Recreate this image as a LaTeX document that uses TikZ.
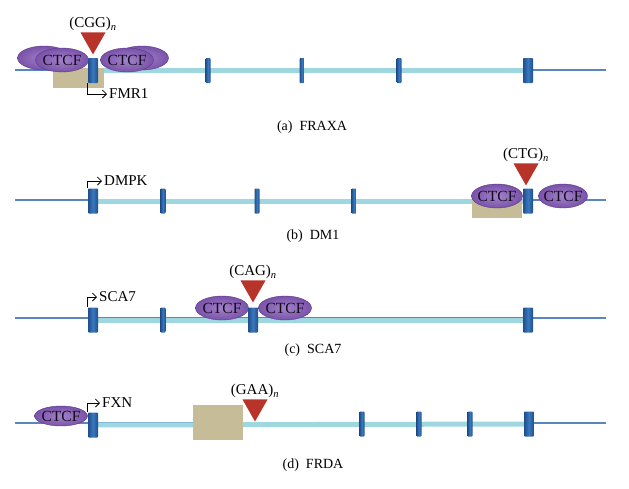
\documentclass[tikz,border=0pt]{standalone}
\usepackage{fontspec}
\setmainfont{Liberation Serif}
\usepackage{tikz}
\usepackage{xcolor}
\usetikzlibrary{shapes.geometric,backgrounds,positioning,arrows.meta}
\definecolor{strand-blue}{HTML}{5A86C0}
\definecolor{band-cyan}{HTML}{9ED7DF}
\definecolor{exon-blue}{HTML}{3A78BE}
\definecolor{exon-dark}{HTML}{1F4F8C}
\definecolor{ctcf-purple}{HTML}{7A52AA}
\definecolor{ctcf-light}{HTML}{A282C8}
\definecolor{ctcf-edge}{HTML}{5B3B8A}
\definecolor{repeat-red}{HTML}{B8342A}
\definecolor{insulator-tan}{HTML}{C6BC97}
\tikzset{
    strand/.style = {draw=strand-blue, line width=1.1pt},
    band/.style = {draw=band-cyan, line width=5pt},
    exon/.style = {rectangle, inner sep=0pt, minimum width=5pt, minimum height=25pt, rounded corners=0.8pt,
        left color=exon-dark, right color=exon-dark, middle color=exon-blue},
    big-exon/.style = {exon, minimum width=10pt},
    ctcf/.style = {ellipse, inner xsep=-6pt, inner ysep=-3pt, minimum width=53pt, minimum height=24pt, draw=ctcf-edge, thin,
        inner color=ctcf-light, outer color=ctcf-purple, text=black!80!ctcf-edge, font=\fontsize{15.5}{15.5}\selectfont},
    insulator/.style = {rectangle, fill=insulator-tan, inner sep=0pt, minimum width=50pt},
    repeat-mark/.style = {isosceles triangle, isosceles triangle stretches, shape border rotate=270,
        fill=repeat-red, inner sep=0pt, minimum width=25pt, minimum height=22pt},
    repeat-label/.style = {font=\fontsize{15}{15}\selectfont, inner sep=1pt},
    gene-name/.style = {font=\fontsize{15}{15}\selectfont, inner sep=0pt, anchor=west},
    tss/.style = {draw=black, line width=0.8pt, -{Straight Barb[length=4pt,width=8pt]}, shorten >=2pt},
    caption/.style = {font=\fontsize{14}{14}\selectfont},
}

\begin{document}
\begin{tikzpicture}[x=1pt, y=-1pt]
\useasboundingbox (0,0) rectangle (629,488);

% (a) FRAXA
\coordinate (a-start) at (15,70);
\coordinate (a-end) at (606,70);
\node[insulator, minimum width=51pt, minimum height=20pt] (ins-a) at (78,78) {};
\node[ctcf] (ctcf-a1) at (44,58) {};
\node[ctcf] (ctcf-a2) at (62,60) {CTCF};
\node[ctcf] (ctcf-a4) at (142,58) {};
\node[ctcf] (ctcf-a3) at (127,60) {CTCF};
\node[big-exon] (ex-a1) at (93,70.5) {};
\node[exon] (ex-a2) at (208,70.5) {};
\node[exon] (ex-a3) at (302,70.5) {};
\node[exon] (ex-a4) at (399,70.5) {};
\node[big-exon] (ex-a5) at (528,70.5) {};
\node[repeat-mark, anchor=apex] (rep-a) at (93,55) {};
\node[repeat-label, above=0pt of rep-a] (cgg) {(CGG)\textsubscript{\textit{n}}};
\node[gene-name] (fmr1) at (109,94) {FMR1};
\draw[tss] (ex-a1.south west) |- (fmr1.west);
\node[caption] (cap-a) at (312,127) {(a)\enspace FRAXA};
\begin{scope}[on background layer]
\draw[strand] (a-start) -- (a-end);
\draw[band] (ex-a1) -- (ex-a5);
\end{scope}

% (b) DM1
\coordinate (b-start) at (15,200);
\coordinate (b-end) at (606,200);
\node[insulator, minimum height=23pt] (ins-b) at (497,206.5) {};
\node[ctcf, minimum width=51pt] (ctcf-b1) at (497,196) {CTCF};
\node[ctcf, minimum width=49pt] (ctcf-b2) at (563,196) {CTCF};
\node[big-exon] (ex-b1) at (93,201) {};
\node[exon] (ex-b2) at (163,201) {};
\node[exon] (ex-b3) at (257,201) {};
\node[exon] (ex-b4) at (354,201) {};
\node[big-exon] (ex-b5) at (528,201) {};
\node[repeat-mark, anchor=apex] (rep-b) at (526,186) {};
\node[repeat-label, above=0pt of rep-b] (ctg) {(CTG)\textsubscript{\textit{n}}};
\node[gene-name] (dmpk) at (104,181) {DMPK};
\draw[tss] (ex-b1.north west) |- (dmpk.west);
\node[caption] (cap-b) at (313,236) {(b)\enspace DM1};
\begin{scope}[on background layer]
\draw[strand] (b-start) -- (b-end);
\draw[band] (ex-b1) -- (ex-b5);
\end{scope}

% (c) SCA7
\coordinate (c-start) at (15,318);
\coordinate (c-end) at (606,318);
\node[ctcf] (ctcf-c1) at (222,308) {CTCF};
\node[ctcf] (ctcf-c2) at (285,308) {CTCF};
\node[big-exon] (ex-c1) at (93,320) {};
\node[exon] (ex-c2) at (163,320) {};
\node[big-exon] (ex-c3) at (253,320) {};
\node[big-exon] (ex-c4) at (528,320) {};
\node[repeat-mark, anchor=apex] (rep-c) at (253,303) {};
\node[repeat-label, above=0pt of rep-c] (cag) {(CAG)\textsubscript{\textit{n}}};
\node[gene-name] (sca7) at (99,297) {SCA7};
\draw[tss] (ex-c1.north west) |- (sca7.west);
\node[caption] (cap-c) at (313,350) {(c)\enspace SCA7};
\begin{scope}[on background layer]
\draw[strand] (c-start) -- (c-end);
\draw[band] (ex-c1) -- (ex-c4);
\end{scope}

% (d) FRDA
\coordinate (d-start) at (15,423);
\coordinate (d-end) at (606,423);
\node[insulator, minimum height=35pt] (ins-d) at (218,422.5) {};
\node[ctcf, minimum height=20pt] (ctcf-d1) at (61,416) {CTCF};
\node[big-exon] (ex-d1) at (93,425) {};
\node[exon] (ex-d2) at (362,424) {};
\node[exon] (ex-d3) at (419,424) {};
\node[exon] (ex-d4) at (470,424) {};
\node[big-exon] (ex-d5) at (529,424) {};
\node[repeat-mark, anchor=apex] (rep-d) at (255,422) {};
\node[repeat-label, above=0pt of rep-d] (gaa) {(GAA)\textsubscript{\textit{n}}};
\node[gene-name] (fxn) at (102,403) {FXN};
\draw[tss] (ex-d1.north west) |- (fxn.west);
\node[caption] (cap-d) at (313,465) {(d)\enspace FRDA};
\begin{scope}[on background layer]
\draw[strand] (d-start) -- (d-end);
\draw[band] (ex-d1) -- (ex-d5);
\end{scope}
\end{tikzpicture}
\end{document}
